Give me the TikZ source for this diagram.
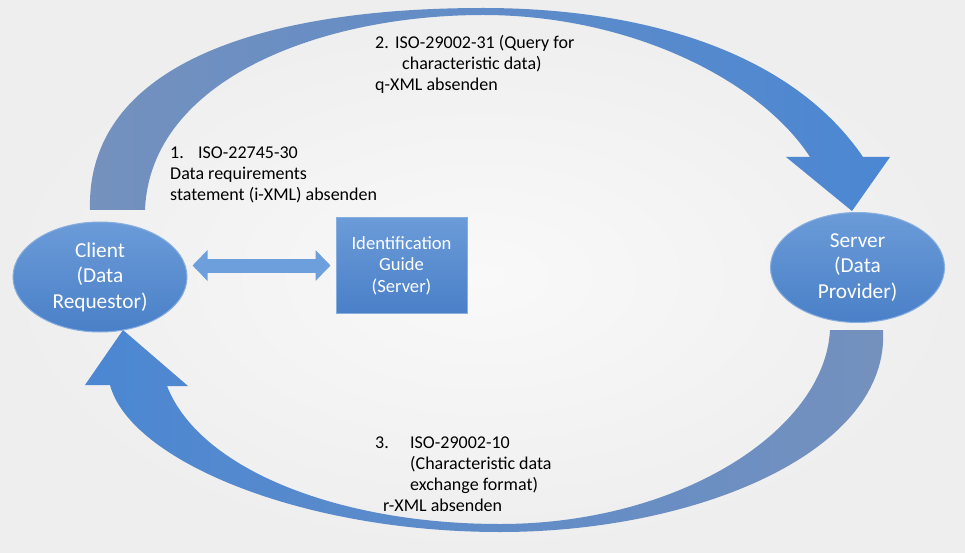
\documentclass[tikz,border=0pt]{standalone}
\usepackage{fontspec}
\setmainfont{Carlito}
\usetikzlibrary{arrows.meta,shapes.geometric}
\definecolor{canvaslight}{HTML}{F9F9F9}
\definecolor{canvasgrey}{HTML}{EEEEEE}
\definecolor{flowblue}{HTML}{4B87D3}
\definecolor{flowgrey}{HTML}{7591BD}
\definecolor{partytop}{HTML}{6B9BD8}
\definecolor{partybottom}{HTML}{4A80C8}
\definecolor{partyrim}{HTML}{86AEDF}
\definecolor{linkblue}{HTML}{6C9FDB}
\begin{document}
\begin{tikzpicture}[x=1pt, y=-1pt,
            party/.style={ellipse, minimum width=174pt, minimum height=110pt, inner sep=0pt,
            align=center, text=white, font=\fontsize{21.3}{25.5}\selectfont,
            top color=partytop, bottom color=partybottom, draw=partyrim, line width=1pt},
            guidebox/.style={rectangle, minimum width=131pt, minimum height=95pt, inner sep=0pt,
            align=center, text=white, font=\fontsize{18.6}{21.5}\selectfont,
            top color=partytop, bottom color=partybottom, draw=partyrim, line width=1pt},
            note/.style={anchor=north west, inner sep=0pt, align=left, font=\fontsize{18}{21}\selectfont},
            link/.style={line width=14pt, color=linkblue, shorten <=5pt, shorten >=5pt,
            {Triangle[length=15pt,width=30pt]}-{Triangle[length=15pt,width=30pt]}}
        ]
            \shade [inner color=canvaslight, outer color=canvasgrey] (0,0) rectangle (965,553);

            \shade [left color=flowgrey, right color=flowblue]
                (90,210) .. controls (86,70) and (250,8) .. (483,8)
                .. controls (640,8) and (790,50) .. (863,157)
                -- (890,157) -- (852,211) -- (786,157) -- (810,157)
                .. controls (760,80) and (630,15) .. (483,15)
                .. controls (320,15) and (150,80) .. (145,210) -- cycle;
            \shade [left color=flowblue, right color=flowgrey]
                (883,330) .. controls (890,450) and (700,532) .. (500,532)
                .. controls (300,532) and (130,460) .. (110,385)
                -- (85,385) -- (123,330) -- (188,386) -- (167,386)
                .. controls (200,470) and (340,524) .. (500,524)
                .. controls (680,524) and (825,430) .. (830,330) -- cycle;

            \node (client) [party] at (100,277) {Client\\(Data\\Requestor)};
            \node (server) [party] at (857.5,267.5) {Server\\(Data\\Provider)};
            \node (guide) [guidebox] at (401.5,265.5) {Identification\\Guide\\(Server)};

            \node (step1) [note] at (170,147) {\makebox[28pt][l]{1.}ISO-22745-30\\Data requirements\\statement (i-XML) absenden};
            \node (step2) [note] at (375,35.5) {\makebox[20pt][l]{2.}ISO-29002-31 (Query for\\\hspace*{27pt}characteristic data)\\q-XML absenden};
            \node (step3) [note] at (375,437) {\makebox[35pt][l]{3.}ISO-29002-10\\\hspace*{35pt}(Characteristic data\\\hspace*{35pt}exchange format)\\\hspace*{8pt}r-XML absenden};

            \draw [link] (guide.west -| client.east) -- (guide.west);
        \end{tikzpicture}
\end{document}
